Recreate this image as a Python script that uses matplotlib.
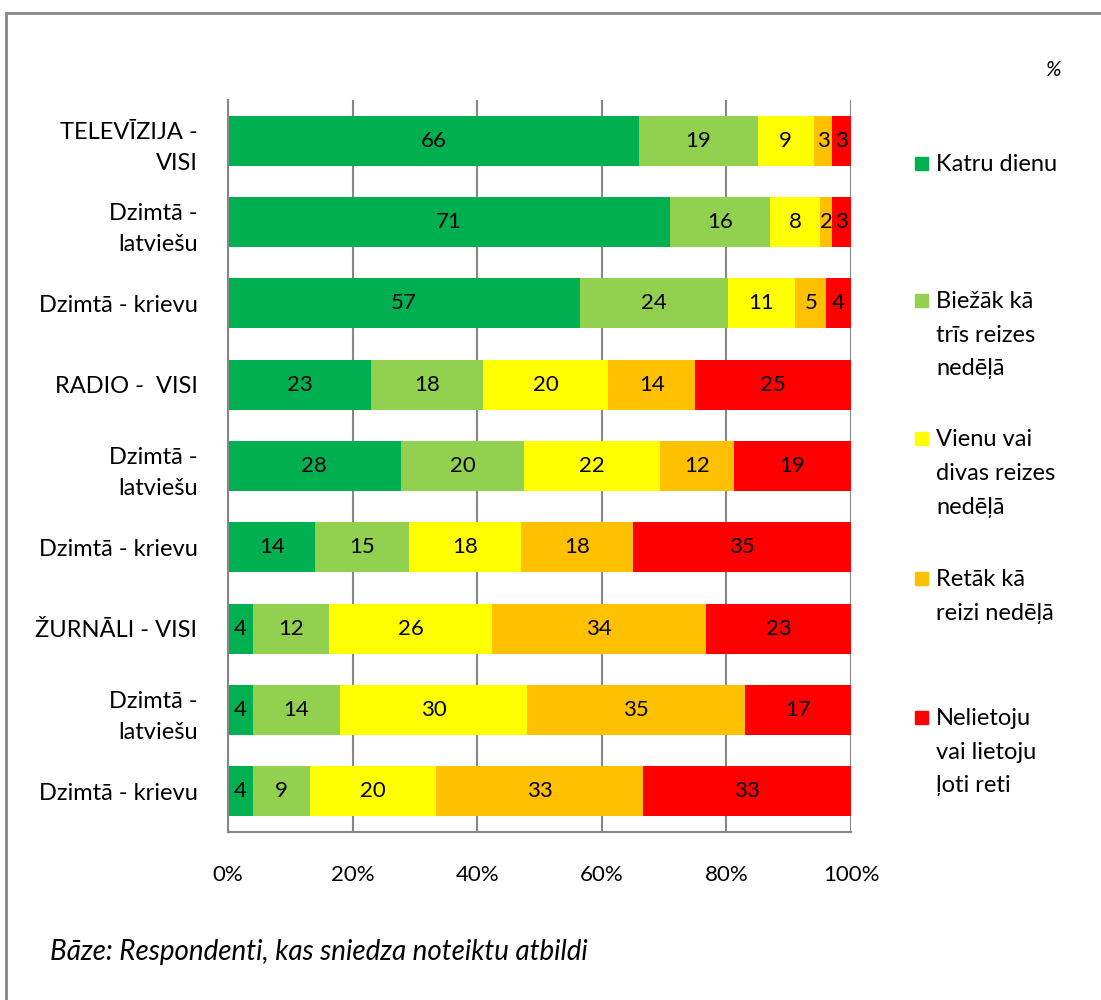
import matplotlib.pyplot as plt
import numpy as np

plt.rcParams['font.family'] = ['Lato', 'DejaVu Sans']

# rows top to bottom
rows = ['TELEVĪZIJA -\nVISI', 'Dzimtā -\nlatviešu', 'Dzimtā - krievu',
        'RADIO -  VISI', 'Dzimtā -\nlatviešu', 'Dzimtā - krievu',
        'ŽURNĀLI - VISI', 'Dzimtā -\nlatviešu', 'Dzimtā - krievu']
series = ['Katru dienu', 'Biežāk kā\ntrīs reizes\nnedēļā',
          'Vienu vai\ndivas reizes\nnedēļā', 'Retāk kā\nreizi nedēļā',
          'Nelietoju\nvai lietoju\nļoti reti']
katru = [66, 71, 57, 23, 28, 14, 4, 4, 4]
biezak = [19, 16, 24, 18, 20, 15, 12, 14, 9]
vienu = [9, 8, 11, 20, 22, 18, 26, 30, 20]
retak = [3, 2, 5, 14, 12, 18, 34, 35, 33]
nelietoju = [3, 3, 4, 25, 19, 35, 23, 17, 33]
colors = ['#00B050', '#92D050', '#FFFF00', '#FFC000', '#FF0000']
xticks = [0, 20, 40, 60, 80, 100]

vals = np.array([katru, biezak, vienu, retak, nelietoju], dtype=float)
share = vals / vals.sum(axis=0) * 100

fig = plt.figure(figsize=(11.01, 10), dpi=100)
# outer frame
fig.patches.append(plt.Rectangle((0.005, -0.1), 1.2, 1.087, transform=fig.transFigure,
                                 fill=False, edgecolor='#868686', lw=2))
ax = fig.add_axes([228/1101, 0.168, 623/1101, 0.732])

y = np.arange(len(rows))
left = np.zeros(len(rows))
for i in range(5):
    ax.barh(y, share[i], left=left, height=0.615, color=colors[i], zorder=2)
    for j in range(len(rows)):
        ax.text(left[j] + share[i][j] / 2, y[j], str(int(vals[i][j])),
                ha='center', va='center', fontsize=16, zorder=3)
    left += share[i]

ax.set_xlim(0, 100)
ax.set_ylim(len(rows) - 0.5, -0.5)
ax.set_xticks(xticks)
ax.set_xticklabels([str(t) + '%' for t in xticks], fontsize=16)
ax.set_yticks(y)
ax.set_yticklabels(rows, fontsize=17, ha='right', multialignment='right', linespacing=1.6)
ax.tick_params(length=0)
ax.tick_params(axis='y', pad=22)
ax.tick_params(axis='x', pad=24)
ax.xaxis.grid(True, color='#868686', lw=1.5, zorder=0)
ax.set_axisbelow(True)
for s in ['top', 'right']:
    ax.spines[s].set_visible(False)
for s in ['left', 'bottom']:
    ax.spines[s].set_color('#868686')
    ax.spines[s].set_linewidth(1.5)

# legend drawn as separate entries, square next to the first line
leg_y = [163, 300, 438, 578, 717]
for i in range(5):
    fig.patches.append(plt.Rectangle((915/1101, 1 - (leg_y[i] + 7)/1000), 13/1101, 13/1000,
                                     transform=fig.transFigure, color=colors[i]))
    fig.text(936/1101, 1 - (leg_y[i] - 9)/1000, series[i], fontsize=17, va='top',
             ha='left', linespacing=1.75)

fig.text(1053/1101, 1 - 70/1000, '%', fontsize=15, ha='center', va='center', style='italic')
fig.text(50/1101, 1 - 952/1000, 'Bāze: Respondenti, kas sniedza noteiktu atbildi',
         fontsize=20, style='italic', va='center')

fig.savefig('out.png', dpi=100)
